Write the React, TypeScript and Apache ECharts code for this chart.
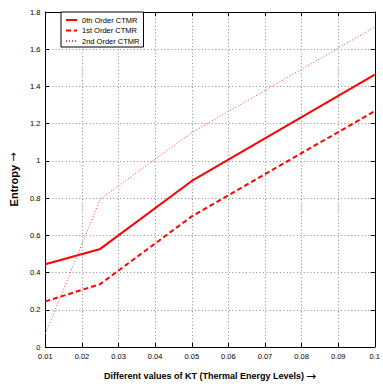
import React, { useEffect, useRef } from "react";
import * as echarts from "echarts";

const kt = [0.01, 0.025, 0.05, 0.1];
const order0 = [0.445, 0.527, 0.892, 1.463];
const order1 = [0.245, 0.338, 0.702, 1.268];
const order2 = [0.07, 0.795, 1.152, 1.719];
const seriesNames = ["0th Order CTMR", "1st Order CTMR", "2nd Order CTMR"];
const xTitle = "Different values of KT (Thermal Energy Levels)";
const yTitle = "Entropy";

const FONT = "'Liberation Sans', Arial, Helvetica, sans-serif";

export default function App() {
  const ref = useRef<HTMLDivElement>(null);
  useEffect(() => {
    if (!ref.current) return;
    const chart = echarts.init(ref.current, null, { renderer: "svg" });
    const pair = (ys: number[]) => kt.map((x, i) => [x, ys[i]]);
    const fmt = (v: number) => String(parseFloat(v.toFixed(4)));
    const grid = { left: 40, right: 3, top: 12, bottom: 38 };
    const tickLabel = { fontFamily: FONT, fontSize: 7.5, color: "#000" };
    const gridLine = { show: true, lineStyle: { color: "#8a8a8a", type: [1, 2.4] as any, width: 1 } };
    const arrowStyle = { fontFamily: "'DejaVu Sans', sans-serif", fontWeight: "normal", color: "#000" };
    chart.setOption({
      animation: false,
      backgroundColor: "#fff",
      grid,
      legend: {
        orient: "vertical",
        left: 61,
        top: 12,
        itemWidth: 11,
        itemHeight: 8,
        itemGap: 2.5,
        padding: [4, 4, 2, 4],
        backgroundColor: "#fff",
        borderColor: "#000",
        borderWidth: 1,
        borderRadius: 0,
        itemStyle: { opacity: 0, color: "rgba(0,0,0,0)", borderWidth: 0 },
        textStyle: { fontFamily: FONT, fontSize: 7.5, color: "#000" },
        data: seriesNames,
      },
      xAxis: [
        {
          type: "value",
          min: 0.01,
          max: 0.1,
          interval: 0.01,
          name: "{t|" + xTitle + "}{a|\u2192}",
          nameLocation: "middle",
          nameGap: 23,
          nameTextStyle: {
            fontFamily: FONT,
            fontSize: 9,
            fontWeight: "bold",
            color: "#000",
            rich: {
              t: { fontFamily: FONT, fontSize: 9, fontWeight: "bold", color: "#000" },
              a: { ...arrowStyle, fontSize: 12, padding: [0, 0, 0, 2] },
            },
          },
          axisLine: { show: true, onZero: false, lineStyle: { color: "#000", width: 1 } },
          axisTick: { show: true, inside: true, length: 4, lineStyle: { color: "#000" } },
          axisLabel: { ...tickLabel, margin: 5, formatter: fmt },
          splitLine: gridLine,
        },
        {
          type: "value",
          position: "top",
          min: 0.01,
          max: 0.1,
          interval: 0.01,
          axisLine: { show: true, onZero: false, lineStyle: { color: "#000", width: 1 } },
          axisTick: { show: true, inside: true, length: 4, lineStyle: { color: "#000" } },
          axisLabel: { show: false },
          splitLine: { show: false },
        },
      ],
      yAxis: [
        {
          type: "value",
          min: 0,
          max: 1.8,
          interval: 0.2,
          name: "{t|" + yTitle + "}{a|\u2192}",
          nameLocation: "middle",
          nameGap: 24,
          nameTextStyle: {
            fontFamily: FONT,
            fontSize: 11,
            fontWeight: "bold",
            color: "#000",
            rich: {
              t: { fontFamily: FONT, fontSize: 11, fontWeight: "bold", color: "#000" },
              a: { ...arrowStyle, fontSize: 11, padding: [0, 0, 0, 3] },
            },
          },
          axisLine: { show: true, onZero: false, lineStyle: { color: "#000", width: 1 } },
          axisTick: { show: true, inside: true, length: 4, lineStyle: { color: "#000" } },
          axisLabel: { ...tickLabel, margin: 5, formatter: fmt },
          splitLine: gridLine,
        },
        {
          type: "value",
          position: "right",
          min: 0,
          max: 1.8,
          interval: 0.2,
          axisLine: { show: true, onZero: false, lineStyle: { color: "#000", width: 1 } },
          axisTick: { show: true, inside: true, length: 4, lineStyle: { color: "#000" } },
          axisLabel: { show: false },
          splitLine: { show: false },
        },
      ],
      series: [
        {
          name: seriesNames[0],
          type: "line",
          data: pair(order0),
          symbol: "none",
          color: "#ff0000",
          lineStyle: { color: "#ff0000", width: 2, type: "solid" },
        },
        {
          name: seriesNames[1],
          type: "line",
          data: pair(order1),
          symbol: "none",
          color: "#ff0000",
          lineStyle: { color: "#ff0000", width: 2, type: [5, 3] },
        },
        {
          name: seriesNames[2],
          type: "line",
          data: pair(order2),
          symbol: "none",
          color: "#ff0000",
          lineStyle: { color: "#ff3c3c", width: 1, type: [1, 2] },
        },
      ],
    });
    return () => chart.dispose();
  }, []);
  return <div ref={ref} style={{ width: 383, height: 387, position: "absolute", left: 0, top: 0 }} />;
}
